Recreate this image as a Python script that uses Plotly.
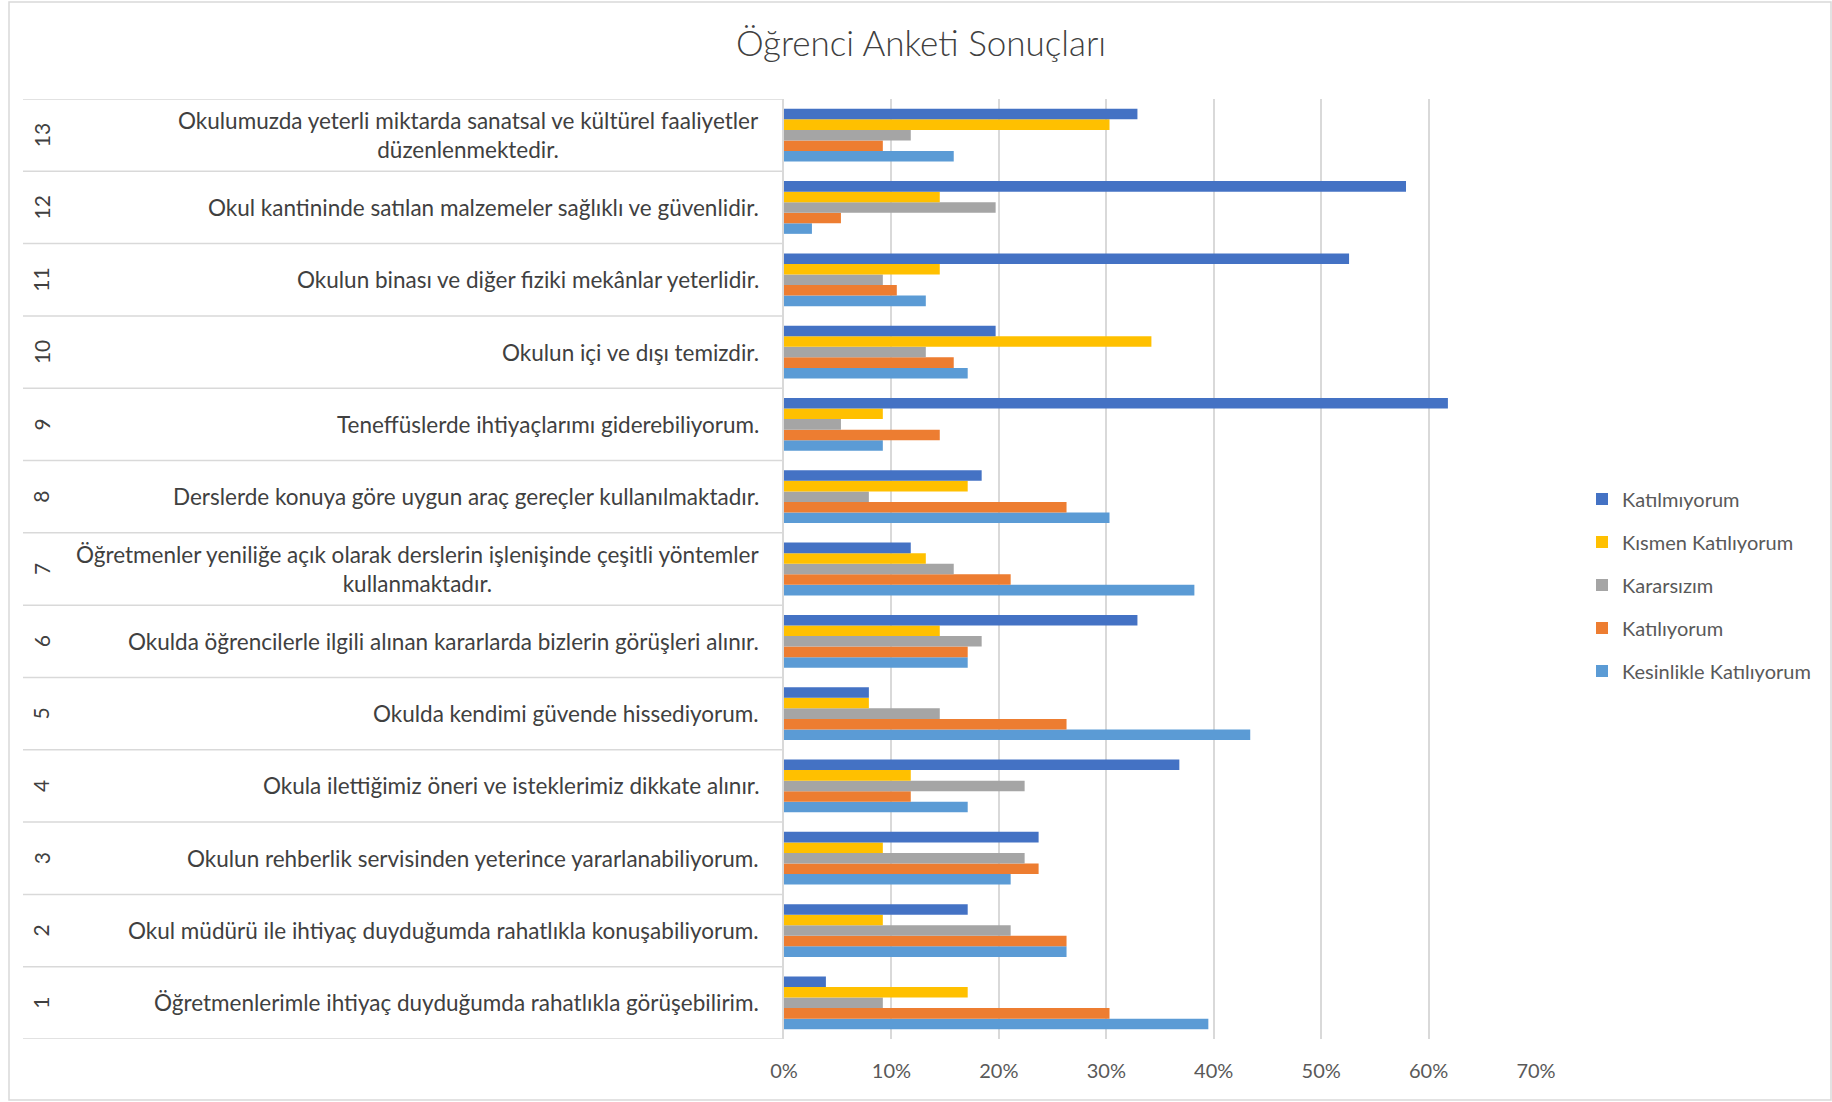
import plotly.graph_objects as go

W, H = 1832, 1102

items = list(range(1, 14))
questions = [
    "Öğretmenlerimle ihtiyaç duyduğumda rahatlıkla görüşebilirim.",
    "Okul müdürü ile ihtiyaç duyduğumda rahatlıkla konuşabiliyorum.",
    "Okulun rehberlik servisinden yeterince yararlanabiliyorum.",
    "Okula ilettiğimiz öneri ve isteklerimiz dikkate alınır.",
    "Okulda kendimi güvende hissediyorum.",
    "Okulda öğrencilerle ilgili alınan kararlarda bizlerin görüşleri alınır.",
    "Öğretmenler yeniliğe açık olarak derslerin işlenişinde çeşitli yöntemler<br>kullanmaktadır.",
    "Derslerde konuya göre uygun araç gereçler kullanılmaktadır.",
    "Teneffüslerde ihtiyaçlarımı giderebiliyorum.",
    "Okulun içi ve dışı temizdir.",
    "Okulun binası ve diğer fiziki mekânlar yeterlidir.",
    "Okul kantininde satılan malzemeler sağlıklı ve güvenlidir.",
    "Okulumuzda yeterli miktarda sanatsal ve kültürel faaliyetler<br>düzenlenmektedir.",
]

# percentages per item 1..13
kesinlikle_katiliyorum = [39.5, 26.3, 21.1, 17.1, 43.4, 17.1, 38.2, 30.3, 9.2, 17.1, 13.2, 2.6, 15.8]
katiliyorum = [30.3, 26.3, 23.7, 11.8, 26.3, 17.1, 21.1, 26.3, 14.5, 15.8, 10.5, 5.3, 9.2]
kararsizim = [9.2, 21.1, 22.4, 22.4, 14.5, 18.4, 15.8, 7.9, 5.3, 13.2, 9.2, 19.7, 11.8]
kismen_katiliyorum = [17.1, 9.2, 9.2, 11.8, 7.9, 14.5, 13.2, 17.1, 9.2, 34.2, 14.5, 14.5, 30.3]
katilmiyorum = [3.9, 17.1, 23.7, 36.8, 7.9, 32.9, 11.8, 18.4, 61.8, 19.7, 52.6, 57.9, 32.9]

x_ticks = [0, 10, 20, 30, 40, 50, 60, 70]
x_tick_labels = ["0%", "10%", "20%", "30%", "40%", "50%", "60%", "70%"]

series = [
    ("Kesinlikle Katılıyorum", kesinlikle_katiliyorum, "#5B9BD5", 5),
    ("Katılıyorum", katiliyorum, "#ED7D31", 4),
    ("Kararsızım", kararsizim, "#A5A5A5", 3),
    ("Kısmen Katılıyorum", kismen_katiliyorum, "#FFC000", 2),
    ("Katılmıyorum", katilmiyorum, "#4472C4", 1),
]

FONT = "Lato"
GRID = "#d9d9d9"

fig = go.Figure()
for i, (name, vals, col, rank) in enumerate(series):
    fig.add_trace(go.Bar(
        y=items, x=vals, name=name, orientation="h",
        marker=dict(color=col, line=dict(width=0)),
        legendgroup=f"g{rank}", legendrank=rank,
    ))

# plot area in pixels
px_left, px_right = 784, 1536
px_top, px_bottom = 99, 1039

def fx(p):
    return p / W

def fy(p):
    return 1 - p / H

shapes = []
for b in range(14):
    shapes.append(dict(type="line", xref="paper", yref="y",
                       x0=fx(23), x1=fx(px_left), y0=b + 0.5, y1=b + 0.5,
                       line=dict(color=GRID, width=1.5)))
shapes.append(dict(type="rect", xref="paper", yref="paper",
                   x0=fx(9), x1=fx(1831), y0=fy(1100), y1=fy(2),
                   line=dict(color=GRID, width=1.5), fillcolor="rgba(0,0,0,0)", layer="below"))

annotations = []
for it, q in zip(items, questions):
    annotations.append(dict(xref="paper", yref="y", x=fx(761), y=it,
                            text=q, showarrow=False, xanchor="right", yanchor="middle",
                            align="center", font=dict(family=FONT, size=22.5, color="#404040")))
    annotations.append(dict(xref="paper", yref="y", x=fx(41), y=it,
                            text=str(it), showarrow=False, textangle=-90,
                            xanchor="center", yanchor="middle",
                            font=dict(family=FONT, size=21, color="#404040")))

fig.update_layout(
    width=W, height=H,
    margin=dict(l=0, r=0, t=0, b=0, autoexpand=False),
    paper_bgcolor="white", plot_bgcolor="white",
    barmode="group", bargap=0.27, bargroupgap=0,
    title=dict(text="Öğrenci Anketi Sonuçları", x=921 / W, xanchor="center",
               y=fy(44), yanchor="middle",
               font=dict(family=FONT, size=35, color="#404040", weight=300)),
    xaxis=dict(domain=[fx(px_left), fx(px_right)], range=[0, 70],
               tickmode="array", tickvals=x_ticks, ticktext=x_tick_labels,
               showgrid=True, gridcolor=GRID, gridwidth=1.5,
               zeroline=False, showline=False, ticks="", ticklabelstandoff=18,
               tickfont=dict(family=FONT, size=20, color="#595959"), fixedrange=True),
    yaxis=dict(domain=[fy(px_bottom), fy(px_top)], range=[0.5, 13.5],
               showticklabels=False, showgrid=False, zeroline=False,
               showline=True, linecolor=GRID, linewidth=1.5, ticks="", fixedrange=True),
    legend=dict(x=fx(1582), xanchor="left", y=fy(585), yanchor="middle",
                traceorder="grouped", tracegroupgap=14,
                font=dict(family=FONT, size=20, color="#595959"),
                bgcolor="rgba(0,0,0,0)"),
    shapes=shapes, annotations=annotations,
    font=dict(family=FONT),
)

fig.write_html("out.html", config={"displayModeBar": False},
               post_script="document.body.style.margin='0';document.body.style.overflow='hidden';")
